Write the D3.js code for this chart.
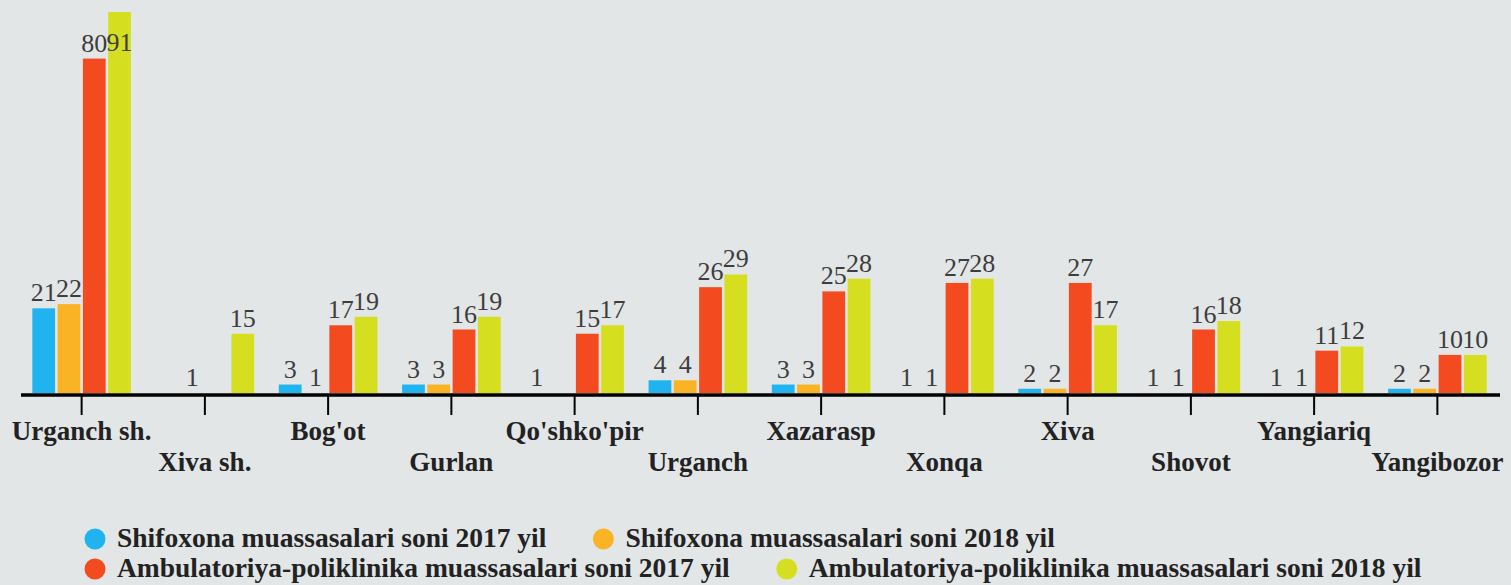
<!DOCTYPE html>
<html>
<head>
<meta charset="utf-8">
<script src="https://cdn.jsdelivr.net/npm/d3@7"></script>
</head>
<body style="margin:0;background:#e3e6e7">
<div id="chart"></div>
<script>
// districts of Xorazm, hospitals and polyclinics per year
const categories = ["Urganch sh.", "Xiva sh.", "Bog'ot", "Gurlan", "Qo'shko'pir", "Urganch",
  "Xazarasp", "Xonqa", "Xiva", "Shovot", "Yangiariq", "Yangibozor"]
const seriesNames = ["Shifoxona muassasalari soni 2017 yil", "Shifoxona muassasalari soni 2018 yil",
  "Ambulatoriya-poliklinika muassasalari soni 2017 yil", "Ambulatoriya-poliklinika muassasalari soni 2018 yil"]
const hosp2017 = [21, null, 3, 3, 1, 4, 3, 1, 2, 1, 1, 2]
const hosp2018 = [22, 1, 1, 3, null, 4, 3, 1, 2, 1, 1, 2]
const amb2017 = [80, null, 17, 16, 15, 26, 25, 27, 27, 16, 11, 10]
const amb2018 = [91, 15, 19, 19, 17, 29, 28, 28, 17, 18, 12, 10]
const COLORS = ["#1fb4f0", "#fbb326", "#f44a1f", "#d6df1f"]
const FONT = "'Liberation Serif', monospace"

const width = 1511, height = 585
const baseY = 395

const svg = d3.select("#chart").append("svg")
  .attr("width", width)
  .attr("height", height)
  .style("display", "block")

const x0 = d3.scaleBand()
  .domain(categories)
  .range([20, 1499])
  .paddingInner(0.2)
  .paddingOuter(0.1)

const x1 = d3.scaleBand()
  .domain(d3.range(4))
  .range([0, x0.bandwidth()])
  .paddingInner(0.1)

// the original axis starts at 1, not 0
const y = d3.scaleLinear()
  .domain([1, 91])
  .range([baseY - 2, 12])

const allSeries = [hosp2017, hosp2018, amb2017, amb2018]
const data = categories.map((c, i) => ({
  key: c,
  values: allSeries.map((s, j) => ({ s: j, v: s[i] }))
}))

const groups = svg.selectAll(".grp")
  .data(data)
  .enter().append("g")
  .attr("class", "grp")
  .attr("transform", d => "translate(" + x0(d.key) + ",0)")

groups.selectAll("rect")
  .data(d => d.values.filter(e => e.v != null))
  .enter().append("rect")
  .attr("x", d => x1(d.s))
  .attr("width", x1.bandwidth())
  .attr("y", d => y(d.v))
  .attr("height", d => y(1) - y(d.v))
  .attr("fill", d => COLORS[d.s])

// labels are kept inside the plot, so the tallest one sits on its bar
groups.selectAll("text")
  .data(d => d.values.filter(e => e.v != null))
  .enter().append("text")
  .attr("x", d => x1(d.s) + x1.bandwidth() / 2)
  .attr("y", d => Math.max(y(d.v) - 7, 51))
  .attr("text-anchor", "middle")
  .style("font-family", FONT)
  .style("font-size", "26px")
  .attr("fill", "#3d3d3d")
  .text(d => d.v)

// x axis
const axis = svg.append("g").attr("transform", "translate(0," + baseY + ")")
axis.append("line")
  .attr("x1", 21).attr("x2", 1500)
  .attr("stroke", "#000").attr("stroke-width", 3.5)

axis.selectAll(".tick")
  .data(categories)
  .enter().append("line")
  .attr("x1", d => x0(d) + x0.bandwidth() / 2)
  .attr("x2", d => x0(d) + x0.bandwidth() / 2)
  .attr("y1", 0).attr("y2", 20)
  .attr("stroke", "#000").attr("stroke-width", 2)

axis.selectAll(".lbl")
  .data(categories)
  .enter().append("text")
  .attr("x", d => x0(d) + x0.bandwidth() / 2)
  .attr("y", (d, i) => i % 2 === 0 ? 45 : 76)
  .attr("text-anchor", "middle")
  .style("font-family", FONT)
  .style("font-weight", "bold")
  .style("font-size", "27px")
  .attr("fill", "#222")
  .text(d => d)

// legend, two rows
const rows = [[0, 1], [2, 3]]
rows.forEach((row, r) => {
  let lx = 95
  const ly = 539 + r * 30
  row.forEach(si => {
    svg.append("circle")
      .attr("cx", lx).attr("cy", ly).attr("r", 10.5)
      .attr("fill", COLORS[si])
    const t = svg.append("text")
      .attr("x", lx + 22).attr("y", ly + 8)
      .style("font-family", FONT)
      .style("font-weight", "bold")
      .style("font-size", "27.5px")
      .attr("fill", "#222")
      .text(seriesNames[si])
    lx = lx + 22 + t.node().getComputedTextLength() + 57
  })
})
</script>
</body>
</html>
